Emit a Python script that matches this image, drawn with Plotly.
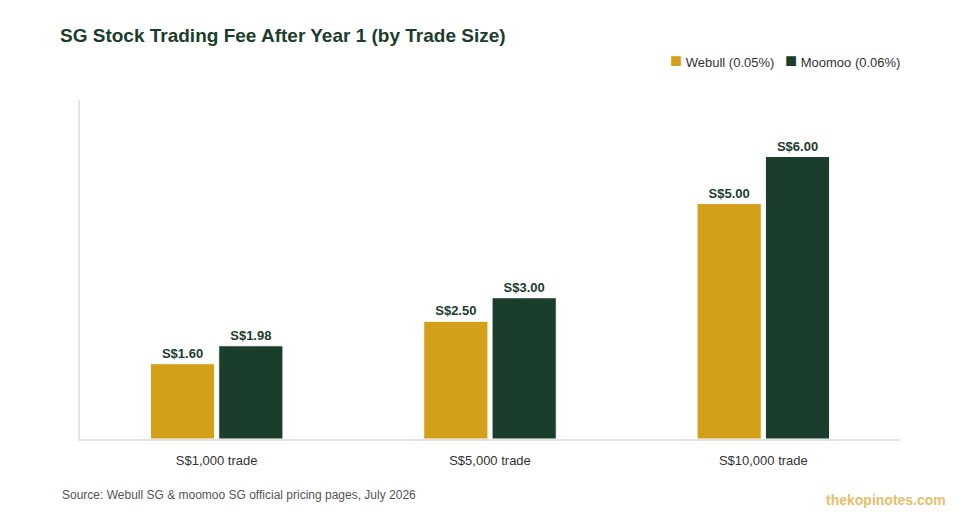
import plotly.graph_objects as go

trades = ["S$1,000 trade", "S$5,000 trade", "S$10,000 trade"]
webull = [1.60, 2.50, 5.00]
moomoo = [1.98, 3.00, 6.00]
names = ["Webull (0.05%)", "Moomoo (0.06%)"]

gold = "#D4A01A"
green = "#1B3D2B"

# page shows the figure 8px in from the top-left, so everything is nudged back by 8
off = 8

fig = go.Figure()
for nm, vals, col in [(names[0], webull, gold), (names[1], moomoo, green)]:
    fig.add_trace(go.Bar(name=nm, x=trades, y=vals, marker_color=col,
                         marker_line=dict(color="white", width=1),
                         texttemplate="S$%{y:.2f}", textposition="outside",
                         textfont=dict(color=green, size=13, family="Liberation Sans", weight="bold"),
                         cliponaxis=False, showlegend=False))

fig.update_layout(
    width=960, height=520,
    margin=dict(l=80-off, r=60+off, t=100-off, b=81+off),
    paper_bgcolor="white", plot_bgcolor="white",
    font=dict(family="Liberation Sans", size=13, color="#333333"),
    barmode="group", bargap=0.5, bargroupgap=0.06,
    title=dict(text="<b>SG Stock Trading Fee After Year 1 (by Trade Size)</b>",
               x=(60-off)/960, xref="container", xanchor="left",
               y=1-(35-off)/520, yref="container", yanchor="middle",
               font=dict(size=19, color=green)),
)
fig.update_xaxes(showline=True, linecolor="#e3e3e3", linewidth=2, ticks="",
                 ticklabelstandoff=8, tickfont=dict(size=13, color="#333333"))
fig.update_yaxes(range=[0, 7.2], showgrid=False, zeroline=False, showticklabels=False,
                 showline=True, linecolor="#e3e3e3", linewidth=2)

# compact legend drawn as text
sq = "<span style='color:%s;font-size:20px'>■</span> %s"
fig.add_annotation(text=sq % (green, names[1]), xref="paper", yref="paper",
                   x=1+2/820, y=1+40/339, showarrow=False, xanchor="right", yanchor="middle",
                   font=dict(size=13, color="#333333"))
fig.add_annotation(text=sq % (gold, names[0]), xref="paper", yref="paper",
                   x=1-124/820, y=1+40/339, showarrow=False, xanchor="right", yanchor="middle",
                   font=dict(size=13, color="#333333"))

fig.add_annotation(text="Source: Webull SG & moomoo SG official pricing pages, July 2026",
                   xref="paper", yref="paper", x=-20/820, y=-56/339, showarrow=False,
                   xanchor="left", yanchor="middle", font=dict(size=12, color="#555555"))
fig.add_annotation(text="<b>thekopinotes.com</b>",
                   xref="paper", yref="paper", x=1+48/820, y=-61/339, showarrow=False,
                   xanchor="right", yanchor="middle", font=dict(size=14, color="#E3C06A"))

fig.write_html("out.html")
